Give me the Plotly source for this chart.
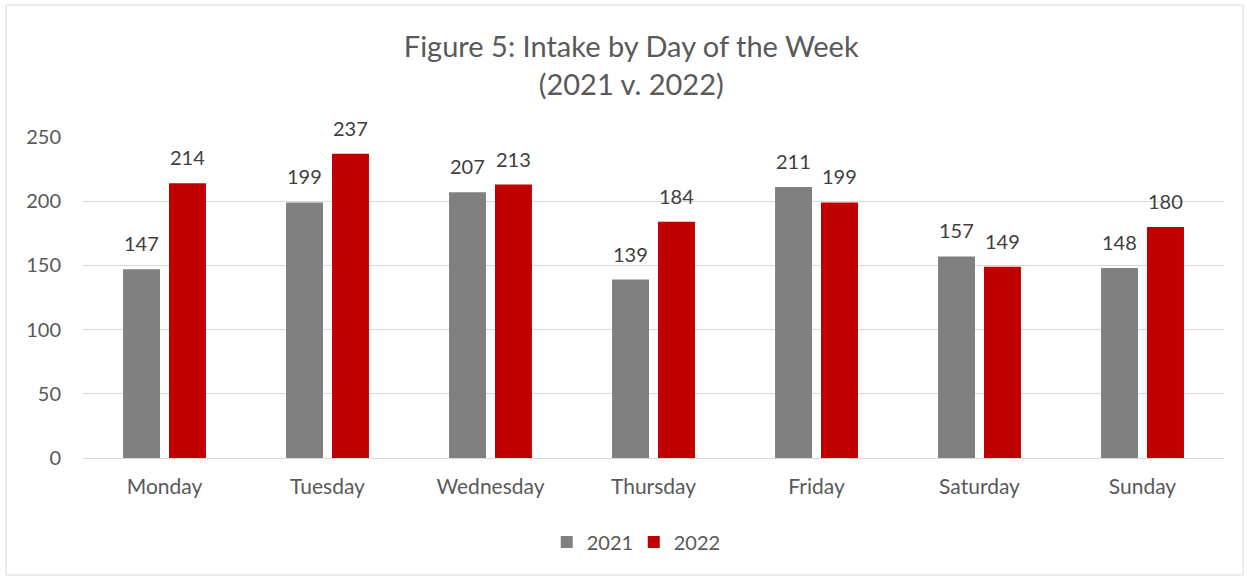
import plotly.graph_objects as go

days = ["Monday", "Tuesday", "Wednesday", "Thursday", "Friday", "Saturday", "Sunday"]
intake_2021 = [147, 199, 207, 139, 211, 157, 148]
intake_2022 = [214, 237, 213, 184, 199, 149, 180]
y_ticks = [0, 50, 100, 150, 200, 250]

W, H = 1250, 578
L, R, T, B = 83, 26, 137, 120
pw, ph = W - L - R, H - T - B
BARGAP = 0.436
OFF = (1 - BARGAP) / 4  # centre offset of each bar within its category

fig = go.Figure()
fig.add_trace(go.Bar(
    x=days, y=intake_2021, name="2021", marker=dict(color="#808080", line=dict(width=0)),
))
fig.add_trace(go.Bar(
    x=days, y=intake_2022, name="2022", marker=dict(color="#C00000", line=dict(width=0)),
))

annotations = []
for i, (a, b) in enumerate(zip(intake_2021, intake_2022)):
    for off, v in ((-OFF, a), (OFF, b)):
        annotations.append(dict(
            x=i + off, y=v, xref="x", yref="y", text=str(v), showarrow=False,
            yanchor="bottom", xanchor="center", yshift=12,
            font=dict(size=20, color="#404040"),
        ))

def px_x(x):
    return (x - L) / pw

def px_y(y):
    return (H - B - y) / ph

fig.update_layout(
    width=W, height=H,
    margin=dict(l=L, r=R, t=T, b=B),
    paper_bgcolor="white", plot_bgcolor="white",
    font=dict(family="Lato, Open Sans, sans-serif", color="#595959"),
    title=dict(
        text="Figure 5: Intake by Day of the Week<br>(2021 v. 2022)",
        x=0.505, xref="container", xanchor="center",
        y=1 - 57 / H, yref="container", yanchor="middle",
        font=dict(size=29, color="#595959"),
    ),
    barmode="group", bargap=BARGAP, bargroupgap=0.196,
    xaxis=dict(
        showgrid=False, showline=True, linecolor="#D9D9D9", linewidth=1,
        ticks="", tickfont=dict(size=21, color="#595959"), ticklabelstandoff=10,
    ),
    yaxis=dict(
        range=[0, 250], tickvals=y_ticks, showgrid=True, gridcolor="#D9D9D9",
        gridwidth=1, zeroline=False, showline=False, ticks="",
        tickfont=dict(size=20, color="#595959"), ticklabelstandoff=21,
    ),
    legend=dict(
        orientation="h", x=0.507, xanchor="center", xref="container",
        y=1 - 542 / H, yref="container", yanchor="middle",
        font=dict(size=20, color="#595959"), traceorder="normal",
        itemwidth=30, entrywidth=42,
    ),
    annotations=annotations,
    shapes=[dict(
        type="rect", xref="paper", yref="paper",
        x0=px_x(6), x1=px_x(1243), y0=px_y(575), y1=px_y(5),
        line=dict(color="#D9D9D9", width=1), fillcolor="rgba(0,0,0,0)", layer="below",
    )],
)

fig.write_html(
    "out.html",
    config={"displayModeBar": False},
    post_script="document.body.style.margin='0';document.body.style.overflow='hidden';",
)
